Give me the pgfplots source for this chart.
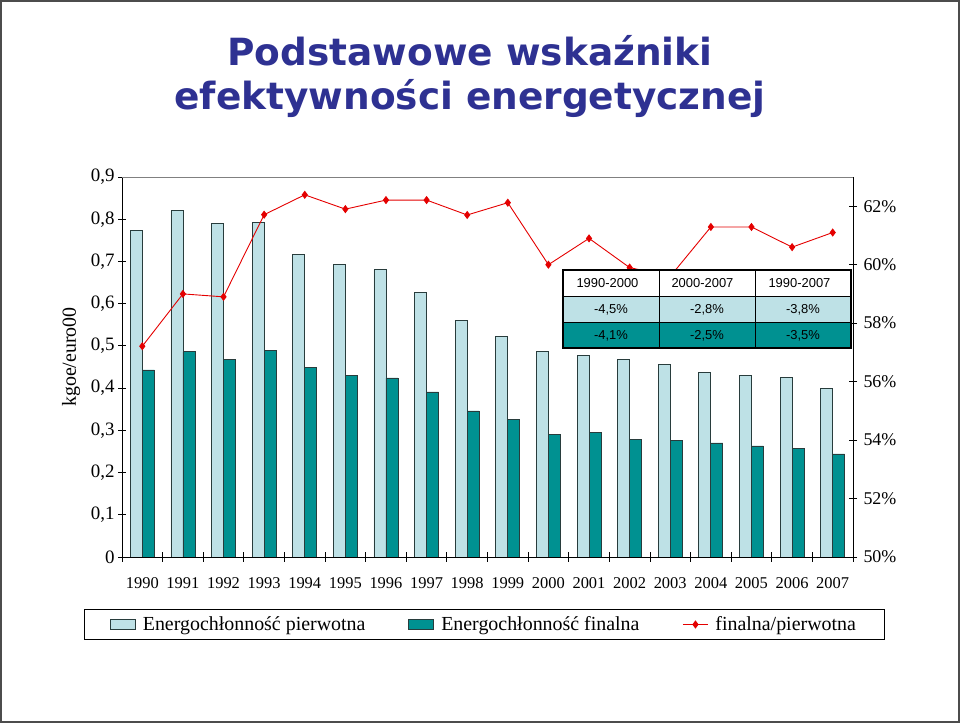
\documentclass[border=0pt]{standalone}
\usepackage{fontspec}
\setmainfont{Liberation Serif}
\newfontfamily\titlefont{DejaVu Sans}
\newfontfamily\tabfont{Liberation Sans}
\usepackage{pgfplots}
\pgfplotsset{compat=1.18}

\definecolor{titleblue}{RGB}{46,49,146}
\definecolor{lightbar}{RGB}{190,225,230}
\definecolor{darkbar}{RGB}{0,145,145}
\definecolor{barline}{RGB}{40,60,60}
\definecolor{linered}{RGB}{228,0,0}

\pgfplotsset{
  boxlegend/.style={legend image code/.code={\draw[##1] (0bp,-5bp) rectangle (25bp,5bp);}},
  marklegend/.style={legend image code/.code={\draw[mark repeat=2,mark phase=2,##1] plot coordinates {(0bp,0bp) (12.5bp,0bp) (25bp,0bp)};}},
}

\begin{document}
\begin{tikzpicture}[x=1bp,y=1bp]
\useasboundingbox (0,0) rectangle (960,723);
\draw[line width=1.5bp, draw=black!70] (1,1) rectangle (959,722);

% title
\node[anchor=base, font=\titlefont\bfseries\fontsize{37.6}{40}\selectfont, text=titleblue] at (470,657) {Podstawowe wskaźniki};
\node[anchor=base, font=\titlefont\bfseries\fontsize{37.6}{40}\selectfont, text=titleblue] at (470,613) {efektywności energetycznej};

% left axis with bars
\begin{axis}[
  at={(122bp,166bp)}, anchor=south west,
  scale only axis, width=731bp, height=380bp,
  xmin=1989.5, xmax=2007.5, ymin=0, ymax=0.9,
  axis x line*=bottom, axis y line*=left,
  axis line style={line width=0.8bp},
  xtick={1990,...,2007}, major x tick style={draw=none},
  minor xtick={1989.5,1990.5,...,2007.5},
  minor x tick style={line width=0.8bp, black},
  minor tick length=10bp,
  ytick={0,0.1,0.2,0.3,0.4,0.5,0.6,0.7,0.8,0.9},
  major tick length=8bp, tick align=center,
  y tick style={line width=0.8bp, black},
  /pgf/number format/.cd, use comma, fixed, precision=1, 1000 sep={}, assume math mode=true,
  /pgfplots/.cd,
  x tick label style={font=\fontsize{16.5}{18}\selectfont, yshift=-13bp, /pgf/number format/1000 sep={}},
  y tick label style={font=\fontsize{19}{21}\selectfont},
  xticklabel={\pgfmathprintnumber[fixed,precision=0,1000 sep={}]{\tick}},
  legend columns=3,
  legend style={at={(0.4952,-0.1776)}, anchor=center, draw=black, line width=0.8bp,
    font=\fontsize{20}{22}\selectfont, inner xsep=26bp, inner ysep=5bp,
    /tikz/every odd column/.append style={column sep=5bp},
    /tikz/every even column/.append style={column sep=41bp}},
]
\addlegendimage{boxlegend, fill=lightbar, draw=barline, line width=0.8bp}
\addlegendentry{Energochłonność pierwotna}
\addlegendimage{boxlegend, fill=darkbar, draw=barline, line width=0.8bp}
\addlegendentry{Energochłonność finalna}
\addlegendimage{marklegend, linered, line width=0.9bp, mark=diamond*, mark size=3.4bp, mark options={fill=linered}}
\addlegendentry{finalna/pierwotna}

\addplot[ybar, bar width=12bp, bar shift=-6bp, fill=lightbar, draw=barline, line width=0.8bp, forget plot]
coordinates {
(1990,0.773) (1991,0.820) (1992,0.790) (1993,0.793) (1994,0.717) (1995,0.693)
(1996,0.680) (1997,0.627) (1998,0.560) (1999,0.523) (2000,0.486) (2001,0.478)
(2002,0.467) (2003,0.457) (2004,0.438) (2005,0.429) (2006,0.426) (2007,0.400)
};
\addplot[ybar, bar width=12bp, bar shift=6bp, fill=darkbar, draw=barline, line width=0.8bp, forget plot]
coordinates {
(1990,0.443) (1991,0.486) (1992,0.467) (1993,0.490) (1994,0.448) (1995,0.431)
(1996,0.424) (1997,0.391) (1998,0.346) (1999,0.325) (2000,0.291) (2001,0.294)
(2002,0.279) (2003,0.275) (2004,0.270) (2005,0.263) (2006,0.258) (2007,0.244)
};
\draw[gray, line width=0.8bp] (rel axis cs:0,1) -- (rel axis cs:1,1);
\end{axis}

% right axis with ratio line
\begin{axis}[
  at={(122bp,166bp)}, anchor=south west,
  scale only axis, width=731bp, height=380bp,
  xmin=1989.5, xmax=2007.5, ymin=50, ymax=63,
  hide x axis, axis y line*=right,
  axis line style={line width=0.8bp},
  ytick={50,52,...,62}, major tick length=8bp, tick align=center,
  y tick style={line width=0.8bp, black},
  yticklabel={\pgfmathprintnumber[fixed,precision=0]{\tick}\%},
  y tick label style={font=\fontsize{18}{20}\selectfont, xshift=3bp, /pgf/number format/assume math mode=true},
]
\addplot[linered, line width=0.9bp, mark=diamond*, mark size=3.4bp, mark options={fill=linered}]
coordinates {
(1990,57.21) (1991,59.00) (1992,58.90) (1993,61.71) (1994,62.39) (1995,61.90)
(1996,62.21) (1997,62.21) (1998,61.70) (1999,62.12) (2000,60.00) (2001,60.90)
(2002,59.90) (2003,59.60) (2004,61.29) (2005,61.29) (2006,60.60) (2007,61.10)
};
\end{axis}

% summary table
\fill[white] (563,375) rectangle (851,453);
\fill[lightbar] (563,401) rectangle (851,427);
\fill[darkbar] (563,375) rectangle (851,401);
\draw[line width=0.8bp] (563,427) -- (851,427) (563,401) -- (851,401)
  (659,375) -- (659,453) (755,375) -- (755,453);
\draw[line width=2.5bp] (563,375) rectangle (851,453);
\begin{scope}[every node/.style={font=\tabfont\fontsize{13}{15}\selectfont}]
\node[anchor=base west] at (573,435) {1990-2000};
\node[anchor=base west] at (668,435) {2000-2007};
\node[anchor=base west] at (765,435) {1990-2007};
\node[anchor=base] at (611,409.5) {-4,5\%};
\node[anchor=base] at (707,409.5) {-2,8\%};
\node[anchor=base] at (803,409.5) {-3,8\%};
\node[anchor=base] at (611,383.5) {-4,1\%};
\node[anchor=base] at (707,383.5) {-2,5\%};
\node[anchor=base] at (803,383.5) {-3,5\%};
\end{scope}

% y label
\node[rotate=90, font=\fontsize{20}{22}\selectfont] at (71,366) {kgoe/euro00};
\end{tikzpicture}
\end{document}
